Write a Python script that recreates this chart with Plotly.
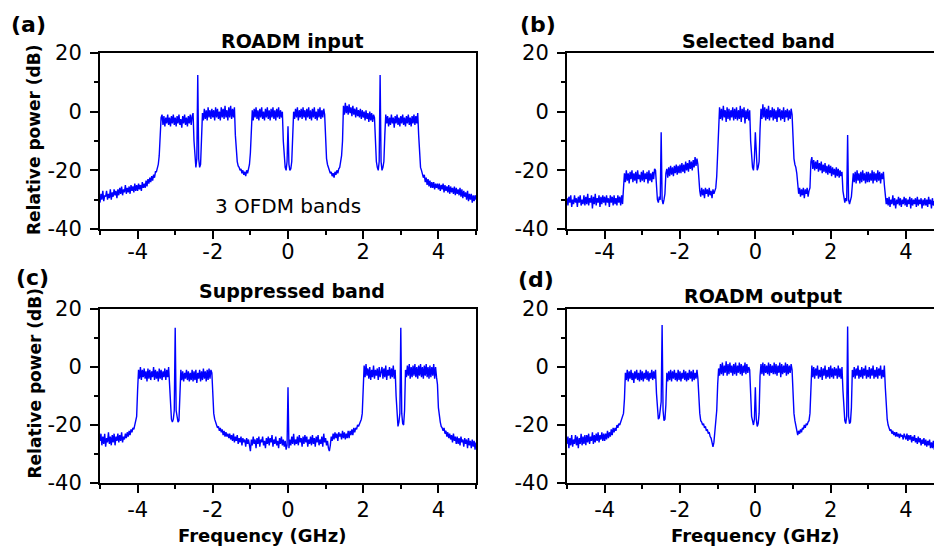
import numpy as np
import plotly.graph_objects as go

# Sampled frequency grid (GHz), 0.025 GHz step from -5 to 5 (401 samples)
freq = np.round(-5 + 0.025 * np.arange(401), 3)

# (a) ROADM input, relative power (dB) (rows of 0.5 GHz)
power_a = [
    -31, -28, -30, -27, -30.5, -28.5, -29, -27, -30, -28, -29.5, -26.5, -30, -27.5, -29, -26.5, -28.5, -27, -29.5, -26.5,
    -28.5, -26, -28, -25.5, -28.5, -26.5, -27.5, -25, -28, -26, -27.5, -25.5, -28, -25, -27, -25.5, -27.5, -24.5, -27, -25,
    -27, -24.5, -26.5, -25, -27, -24, -26, -24.5, -26, -23.5, -25.5, -23, -24.5, -22.5, -24, -22, -23.5, -21.5, -22.5, -20.5,
    -20.5, -19, -18, -15, -9, -2, -1, -4.5, -1.5, -5, -2, -4, -1, -4.5, -2, -5, -1.5, -4, -1, -4.5,
    -2, -5, -1.5, -4, -1, -4.5, -2.5, -5.5, -1.5, -4, -1, -4.5, -2, -5, -1.5, -4, -1, -4.5, -1.5, -0.5,
    -10, -17, -19, -16, 12.5, -16, -19, -18, -8, -0.5, -3, 1, -2.5, 0.5, -3, 1.5, -2, 0.5, -2.5, 1,
    -2, 0.5, -3, 1.5, -2, 1, -2.5, 0, -3, 1.5, -2, 1, -2.5, 2, -2, 0.5, -3, 1.5, -2, 2,
    -2.5, 1, -2, 1.5, -8, -14, -17, -18.5, -19, -20, -19.5, -21, -20, -21.5, -20.5, -22, -20, -21, -19, -18,
    -14, -2, 0.5, -3, 1, -2, 1.5, -2.5, 0.5, -3, 1, -2, 1.5, -2.5, 0, -3, 1, -2, 1.5, -2.5,
    0.5, -3, 1, -2, 1.5, -2.5, 0.5, -3, 1, -2, 1.5, -2.5, 0.5, -2, 0, -10, -17, -19, -20, -17,
    -5, -18, -20, -19.5, -17, -8, 0, -2.5, 1, -2, 1.5, -3, 0.5, -2, 1, -2.5, 1.5, -2, 0.5, -3,
    1, -2, 1.5, -2.5, 0.5, -3, 1, -2, 1.5, -2.5, 0, -3, 1, -2, 1.5, -2.5, 0.5, -2, 1, -1,
    -10, -16, -18, -19, -20, -21, -20.5, -22, -21, -22.5, -20.5, -21.5, -20, -21, -19.5, -19, -17, -15, -10, 2,
    -1, 3, -0.5, 2, -1, 2.5, -0.5, 1.5, -1.5, 2, -1, 1, -2, 1.5, -1.5, 0.5, -2, 1, -2.5, 0.5,
    -2, 0, -3, 0.5, -2.5, -0.5, -3.5, 0, -3, -0.5, -3.5, -1, -2, -10, -17, -19, -20, -17, 12.5, -17,
    -20, -19, -17, -8, -1, -4, -1.5, -5, -2, -4.5, -1, -4, -2, -5.5, -1.5, -4, -1, -4.5, -2, -5,
    -1.5, -4, -1, -4.5, -2, -5, -1.5, -4, -1, -4.5, -2, -5, -1.5, -4, -1, -4.5, -1.5, -4, -0.5, -8,
    -16, -19, -20, -21, -22.5, -21.5, -24, -22.5, -25, -23, -25.5, -23.5, -26, -24, -26, -24, -26.5, -24.5, -26, -24.5,
    -26.5, -24.5, -27, -25, -26.5, -24.5, -27.5, -25, -27, -25.5, -27.5, -25, -28, -25.5, -27.5, -26, -28, -25.5, -28.5, -26,
    -28, -26.5, -28.5, -26, -29, -26.5, -29.5, -27, -29, -27.5, -30, -27, -30.5, -28, -30, -28, -31, -28.5, -30.5, -28.5,
    -30,
]

# (b) Selected band
power_b = [
    -29.5, -32, -29, -31, -28.5, -32.5, -30, -31.5, -28.5, -31, -29.5, -32.5, -29, -31, -28.5, -32, -30, -31.5, -28.5, -32,
    -29, -31.5, -28, -32, -29.5, -31, -28.5, -33, -29, -31.5, -28, -32, -29.5, -31, -28.5, -32.5, -29, -31.5, -28.5, -31,
    -29, -32, -28.5, -31, -29.5, -32.5, -28.5, -31, -29, -32, -28.5, -31.5, -29.5, -32, -28.5, -31, -29, -32, -28.5, -31.5,
    -26, -21, -24, -20, -23.5, -21, -24.5, -20.5, -23, -20, -24, -21, -23.5, -20.5, -24.5, -20, -23, -21.5, -24, -20.5,
    -23.5, -20, -24, -21, -23, -20.5, -24.5, -20, -23.5, -21, -24, -20.5, -23, -19.5, -20, -27, -30, -31, -29, -30,
    -7, -30, -31.5, -30, -28, -21, -19.5, -22.5, -19, -22, -18.5, -21.5, -19, -22, -18.5, -21, -18, -21.5, -18.5, -21,
    -18, -21, -17.5, -20.5, -18, -21, -17, -20, -17.5, -20.5, -16.5, -19.5, -17, -20, -16.5, -19, -15.5, -18.5, -16, -18,
    -24, -27, -29, -26, -28.5, -26.5, -29.5, -26, -28, -26.5, -29, -26, -28.5, -27, -29.5, -26.5, -28, -27, -26, -22,
    -14, -2, 1.5, -2.5, 1, -3, 2, -2, 0.5, -3.5, 1.5, -2.5, 1, -3, 0.5, -2, 1.5, -3, 1, -2.5,
    1.5, -3, 0.5, -2.5, 2, -3.5, 1, -2, 1.5, -4, 0.5, -2.5, 1, -3, 0.5, -10, -17, -19, -20, -16,
    -7, -17, -20, -19, -17, -6, 1, -2.5, 2.5, -2, 1.5, -3, 1, -2.5, 2, -3, 0.5, -2, 1.5, -3,
    1, -2.5, 0.5, -3.5, 1.5, -2, 1, -3, 0.5, -2.5, 1.5, -3.5, 0.5, -2, 1, -3, 0.5, -2.5, 1, -1,
    -10, -16, -18, -19, -21, -25, -28, -26, -29, -26.5, -28.5, -26, -29.5, -26.5, -28, -26, -29, -27, -26, -17,
    -15.5, -19.5, -16.5, -20, -17, -19.5, -16.5, -20.5, -17.5, -20, -17, -21, -18, -20.5, -17.5, -21, -18.5, -21.5, -18, -21,
    -18.5, -22, -19, -21.5, -19.5, -22.5, -19, -22, -19.5, -22.5, -20, -22, -20.5, -27, -30, -31, -29.5, -30.5, -8, -30,
    -31.5, -30, -29, -25, -21, -24, -20.5, -24.5, -20, -23.5, -21, -24.5, -20.5, -24, -20, -23.5, -21, -24.5, -20.5, -24,
    -20.5, -24, -21, -23.5, -20, -24.5, -20.5, -23.5, -21, -24, -20, -23.5, -20.5, -24.5, -21, -23, -20.5, -25, -29, -31.5,
    -29.5, -32, -29, -32.5, -30, -31.5, -28.5, -32, -29.5, -33, -30, -31.5, -29, -32, -29.5, -32.5, -30, -31.5, -29, -32,
    -29.5, -32.5, -30, -31.5, -29, -33, -29.5, -32, -30, -31.5, -29.5, -32.5, -29, -32, -30, -31.5, -29.5, -33, -30, -32,
    -29.5, -32, -30, -32.5, -29, -31.5, -30, -33, -29.5, -32, -30.5, -31.5, -29.5, -32.5, -30, -32, -29.5, -31.5, -30, -32.5,
    -31,
]

# (c) Suppressed band
power_c = [
    -25.5, -23, -27, -24, -26.5, -23, -27.5, -24.5, -26, -22.5, -26.5, -24, -27, -23.5, -26, -23, -27, -24, -25.5, -23,
    -26, -23.5, -25.5, -22.5, -26, -24, -25, -23, -24.5, -22.5, -24, -22, -23.5, -21.5, -22.5, -21, -21.5, -20, -19.5, -17,
    -8, -1, -4, 0, -4.5, -1, -3.5, -0.5, -4, -1.5, -5, -0.5, -4, -1, -4.5, -1.5, -3.5, 0, -4.5, -1,
    -4, -1.5, -5, -0.5, -4, -1, -4.5, -1.5, -3.5, -0.5, -4.5, -1, -3.5, 0, -6, -14, -18, -19, -18, -15,
    13.5, -15, -18, -19, -18.5, -8, -1, -4.5, -1.5, -5, -2, -4, -1, -4.5, -1.5, -5, -2, -4.5, -1, -5,
    -1.5, -4.5, -1, -5.5, -2, -4, -1, -5, -1.5, -4.5, -0.5, -4, -1.5, -5, -1, -4.5, -0.5, -4, -1, -2,
    -12, -16, -18, -19.5, -20, -21, -20.5, -22, -21, -22.5, -21.5, -23.5, -22, -24, -22.5, -24, -23, -24.5, -23, -25,
    -23.5, -25.5, -23, -26, -24, -25.5, -23.5, -26.5, -24.5, -26, -24, -27, -24.5, -26, -25, -27.5, -24.5, -26.5, -25, -27,
    -29, -25, -27, -24, -26.5, -25, -28, -24.5, -26.5, -24, -27.5, -25, -26, -24, -27, -25.5, -28, -24.5, -26.5, -24,
    -27, -24.5, -26, -23.5, -27.5, -25, -26.5, -24, -27, -25.5, -28, -24.5, -26.5, -24, -27, -25, -27.5, -25.5, -28.5, -27,
    -7, -28, -25, -27, -24, -26.5, -23, -27, -25, -26.5, -24, -27, -23.5, -26, -24.5, -27.5, -24, -26.5, -23.5, -26,
    -24, -27.5, -25, -26.5, -24, -27, -23.5, -26.5, -24.5, -27.5, -24, -26, -23.5, -27, -25, -26.5, -24, -27.5, -23, -26,
    -24.5, -27, -25.5, -28, -29, -27, -24, -25.5, -23, -25, -22.5, -24.5, -23, -25.5, -22.5, -24, -23, -25, -22, -24.5,
    -22.5, -25, -23, -24.5, -22, -24.5, -22, -23.5, -21.5, -23.5, -21, -22.5, -21, -21.5, -20, -20.5, -19.5, -19, -18, -16,
    -6, 0.5, -3.5, 1, -3, -0.5, -4, 0, -4.5, -1, -3.5, 0.5, -4, -1, -3, -0.5, -4.5, 0, -3.5, -1,
    0, -4, -0.5, -3.5, 0.5, -4.5, -1, -3, 0, -4, -0.5, -3.5, 0.5, -4, -1, -10, -18, -20.5, -19, -16,
    13.5, -16, -19.5, -20, -15, -1, -3.5, 0.5, -3, 1, -4, 0, -3.5, 0.5, -3, 1, -3.5, 0, -4, 0.5,
    -3, 1, -3.5, 0, -4, 0.5, -3, 1, -3.5, 0, -4, 0.5, -3.5, 0, -3, 1, -4, 0, -3.5, -6,
    -14, -17, -19, -20.5, -21, -22, -21, -23, -22, -24, -22.5, -24.5, -23, -25, -23.5, -26, -23, -25.5, -24, -26.5,
    -24, -26.5, -24.5, -27, -24, -26, -25, -27.5, -24.5, -26.5, -25, -28, -24.5, -27, -25.5, -28, -25, -27.5, -25.5, -28.5,
    -26,
]

# (d) ROADM output
power_d = [
    -26.5, -24, -28, -24.5, -27, -23.5, -27.5, -25, -26.5, -23.5, -27, -24, -28, -24.5, -26.5, -23, -27, -24, -26.5, -23.5,
    -27, -23.5, -26, -23, -26.5, -24, -25.5, -22.5, -26.5, -23.5, -26, -23, -25.5, -22.5, -26, -23.5, -25, -22.5, -25.5, -23,
    -25.5, -23, -25, -22, -24.5, -22.5, -24, -21.5, -23.5, -21, -22.5, -21, -22, -20, -21, -19.5, -20, -19, -18.5, -17.5,
    -16, -11, -2, -4.5, -1, -5, -1.5, -4, -1, -4.5, -2, -5.5, -1.5, -4, -1, -4.5, -2, -5, -1, -4.5,
    -1.5, -5, -2, -4, -1, -4.5, -1.5, -5, -2, -4, -1, -4.5, -1.5, -4, -1, -9, -16, -18, -17.5, -15,
    -12, 14.5, -15, -18.5, -18, -13, -2, -5, -1.5, -4.5, -1, -5, -1.5, -4, -1, -4.5, -2, -5, -1, -4.5,
    -1.5, -5, -2, -4, -1, -4.5, -1.5, -5, -2, -4.5, -1, -4, -1.5, -5, -1, -4.5, -2, -4, -1, -4,
    -12, -16, -18.5, -19, -20, -19.5, -21, -20.5, -22, -21.5, -23, -22.5, -24, -24.5, -26, -27.5, -26, -22, -17, -15,
    -6, -0.5, -3, 1, -2.5, 1.5, -3, 0.5, -2, 2, -3, 1, -2.5, 1.5, -2, 0.5, -3, 1, -2.5, 1.5,
    -3, 0.5, -2, 1.5, -2.5, 1, -3, 0.5, -2, 1.5, -2.5, 1, -2, 0, -1, -10, -17, -18.5, -20, -18,
    -7, -18, -20.5, -19.5, -16, -3, 1, -2.5, 1.5, -3, 1, -2, 0.5, -2.5, 1.5, -3, 1, -2, 0.5, -2.5,
    1.5, -2.5, 1, -3, 0.5, -2, 1.5, -3.5, 1, -2.5, 0.5, -2, 1.5, -3, 1, -2.5, 0.5, -2, 1, -1,
    -10, -16, -18.5, -20, -22, -23.5, -22, -23, -21.5, -22.5, -21, -21.5, -20, -21, -19.5, -20, -19, -18.5, -16, -10,
    0.5, -3.5, 0, -4, -0.5, -3, 0.5, -4, -1, -3.5, 0, -4.5, -0.5, -3, 0.5, -4, -1, -3.5, 0, -4,
    0.5, -3.5, -0.5, -4, 0, -3, -0.5, -4, 0.5, -3.5, -0.5, -4, 0, -8, -16, -18.5, -19.5, -17, 14, -17,
    -19.5, -19, -14, -1, -3.5, 0, -4, -0.5, -3, 0.5, -4, -1, -3.5, 0, -4, -0.5, -3, 0.5, -4, -1,
    -3.5, 0, -4, -0.5, -3, 0.5, -4, -1, -3.5, 0, -4, -0.5, -3, 0.5, -4, -1, -3.5, 0.5, -7, -14,
    -18, -20, -21, -22, -21.5, -23, -22, -23.5, -22.5, -24, -22.5, -24, -23, -24.5, -23, -24, -23.5, -25, -23, -24.5,
    -25, -23, -25.5, -23.5, -25, -23.5, -26, -24, -25.5, -23.5, -26, -24.5, -26.5, -24, -26, -24.5, -27, -25, -26.5, -24.5,
    -27, -25, -27.5, -25.5, -27, -25, -28, -26, -28, -25.5, -28.5, -26.5, -29, -26.5, -29.5, -27, -29, -27, -30, -27.5,
    -28.5,
]

panel_titles = ["ROADM input", "Selected band", "Suppressed band", "ROADM output"]
panel_labels = ["(a)", "(b)", "(c)", "(d)"]
x_ticks = [-4, -2, 0, 2, 4]
x_tick_text = ["-4", "-2", "0", "2", "4"]
y_ticks = [-40, -20, 0, 20]
y_tick_text = ["-40", "-20", "0", "20"]

W, H = 934, 550
FONT = "DejaVu Sans"

def px(v):
    return v / W

def py(v):
    return 1 - v / H

fig = go.Figure()
series = [power_a, power_b, power_c, power_d]
for i, p in enumerate(series):
    assert len(p) == len(freq), (i, len(p))
    n = "" if i == 0 else str(i + 1)
    fig.add_trace(go.Scatter(x=freq, y=p, mode="lines",
                             line=dict(color="#0000FF", width=1.4),
                             xaxis="x" + n, yaxis="y" + n, showlegend=False,
                             hoverinfo="skip"))

x_left = [px(100), px(476)]
x_right = [px(567), 1.0]
y_top = [py(229), py(53)]
y_bot = [py(483), py(309)]
doms = [(x_left, y_top), (x_right, y_top), (x_left, y_bot), (x_right, y_bot)]
right_max = -5 + (W - 566.6) / 37.71

layout = dict(width=W, height=H, margin=dict(l=0, r=0, t=0, b=0),
              paper_bgcolor="white", plot_bgcolor="white",
              font=dict(family=FONT, color="black"))
for i, (xd, yd) in enumerate(doms):
    n = "" if i == 0 else str(i + 1)
    right = i in (1, 3)
    top = i in (0, 1)
    layout["xaxis" + n] = dict(
        domain=xd, anchor="y" + n, range=[-5, right_max if right else 5],
        tickmode="array", tickvals=x_ticks, ticktext=x_tick_text,
        ticks="outside", ticklen=8, tickwidth=2, tickcolor="black",
        minor=dict(ticks="outside", ticklen=4, tickwidth=2, tickcolor="black", dtick=1, tick0=0),
        showline=True, linecolor="black", linewidth=2, mirror=True,
        showgrid=False, zeroline=False, automargin=False,
        ticklabelstandoff=-5 if top else -1,
        tickfont=dict(family=FONT, size=21, color="black"))
    layout["yaxis" + n] = dict(
        domain=yd, anchor="x" + n, range=[-40, 20],
        tickmode="array", tickvals=y_ticks, ticktext=y_tick_text,
        ticks="outside", ticklen=8, tickwidth=2, tickcolor="black",
        minor=dict(ticks="outside", ticklen=4, tickwidth=2, tickcolor="black", dtick=10, tick0=0),
        showline=True, linecolor="black", linewidth=2, mirror=not right,
        showgrid=False, zeroline=False, automargin=False,
        ticklabelstandoff=4,
        tickfont=dict(family=FONT, size=21, color="black"))
fig.update_layout(**layout)

ann = []
title_pos = [(292, 41.4), (758, 41.4), (292, 291.4), (763, 296.4)]
for t, (xv, yv) in zip(panel_titles, title_pos):
    ann.append(dict(text=f"<b>{t}</b>", x=px(xv), xref="paper", y=py(yv), yref="paper",
                    showarrow=False, xanchor="center", yanchor="middle",
                    font=dict(family=FONT, size=19, color="black")))
label_pos = [(28, 25), (538, 25), (32, 277), (536, 279)]
for t, (xv, yv) in zip(panel_labels, label_pos):
    ann.append(dict(text=f"<b>{t}</b>", x=px(xv), xref="paper", y=py(yv), yref="paper",
                    showarrow=False, xanchor="center", yanchor="middle",
                    font=dict(family=FONT, size=22, color="black")))
for yv in (140, 383.5):
    ann.append(dict(text="<b>Relative power (dB)</b>", x=px(34), xref="paper", y=py(yv), yref="paper",
                    showarrow=False, xanchor="center", yanchor="middle", textangle=-90,
                    font=dict(family=FONT, size=17, color="black")))
for xv in (262, 755):
    ann.append(dict(text="<b>Frequency (GHz)</b>", x=px(xv), xref="paper", y=py(535), yref="paper",
                    showarrow=False, xanchor="center", yanchor="middle",
                    font=dict(family=FONT, size=18, color="black")))
ann.append(dict(text="3 OFDM bands", x=0, xref="x", y=-32.2, yref="y",
                showarrow=False, xanchor="center", yanchor="middle",
                font=dict(family=FONT, size=20, color="black")))
fig.update_layout(annotations=ann)

fig.write_html("out.html", config={"displayModeBar": False},
               post_script="document.body.style.margin='0';document.body.style.overflow='hidden';")
